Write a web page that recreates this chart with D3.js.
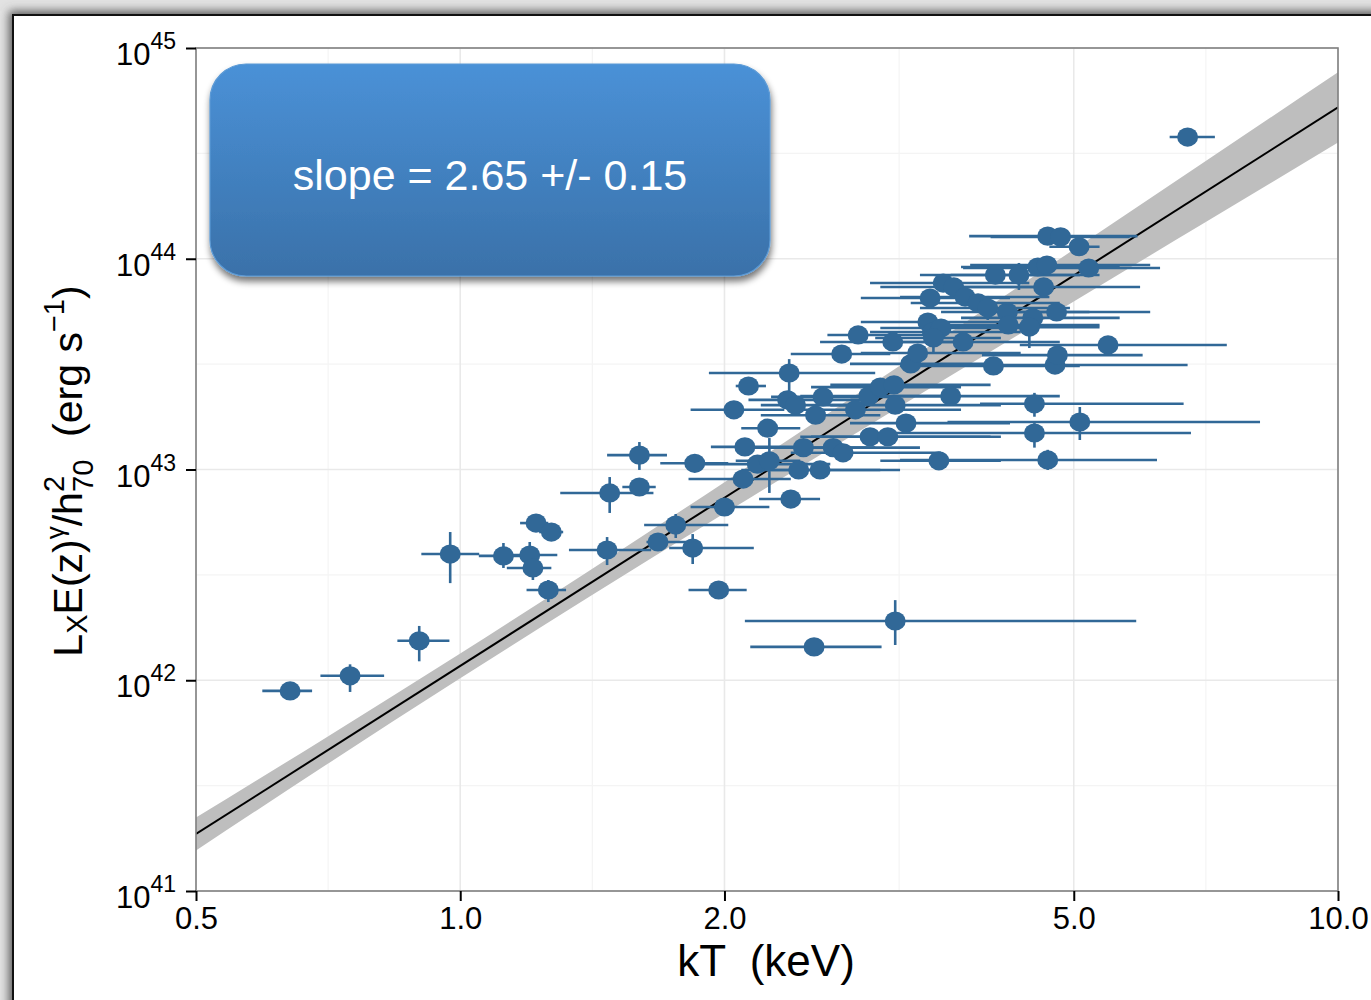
<!DOCTYPE html>
<html>
<head>
<meta charset="utf-8">
<script src="https://cdn.jsdelivr.net/npm/d3@7"></script>
<style>
  html, body { margin: 0; padding: 0; background: #fff; }
  svg { display: block; }
  text { font-family: "Liberation Sans", Arial, Helvetica, sans-serif; white-space: pre; }
</style>
</head>
<body>
<svg id="chart" width="1371" height="1000"></svg>
<script>
// Cluster temperatures (keV) with lower / upper bounds of the error bars
const kT    = [0.64, 0.749, 0.898, 0.974, 1.12, 1.20, 1.21, 1.22, 1.27, 1.26,
               1.47, 1.48, 1.60, 1.60, 1.85, 1.76, 1.68, 1.84, 1.97, 2.00,
               2.10, 2.11, 2.24, 2.05, 2.13, 2.37, 2.36, 2.41, 2.18, 2.25,
               2.38, 2.43, 2.57, 2.46, 2.66, 2.73, 2.54, 2.82, 2.59, 2.92,
               2.93, 3.07, 2.72, 2.84, 3.11, 3.01, 3.12, 3.13, 3.22, 3.26,
               3.32, 3.51, 4.67, 3.62, 4.51, 5.08, 4.51, 4.05, 4.76, 4.79,
               5.47, 3.41, 3.45, 3.53, 3.46, 3.74, 6.74, 4.67, 4.83, 5.07,
               5.20, 4.55, 4.66, 4.07, 4.33, 4.62, 3.55, 3.65, 3.43, 3.76,
               3.89, 3.99, 4.20, 4.21, 4.49, 4.78, 4.45, 3.13, 2.53];
const kTLo  = [0.595, 0.693, 0.848, 0.903, 1.05, 1.13, 1.13, 1.17, 1.23, 1.19,
               1.33, 1.30, 1.47, 1.53, 1.69, 1.62, 1.63, 1.73, 1.82, 1.83,
               1.82, 1.93, 2.09, 1.83, 2.06, 1.92, 2.13, 2.20, 1.88, 2.06,
               2.19, 2.09, 2.26, 2.11, 2.26, 2.38, 2.20, 2.38, 2.26, 2.44,
               2.44, 2.51, 2.38, 2.62, 2.57, 2.51, 2.64, 2.64, 2.78, 2.78,
               2.86, 3.01, 3.17, 3.01, 3.91, 3.59, 3.09, 3.17, 3.93, 3.93,
               4.34, 2.86, 2.93, 3.01, 2.97, 3.17, 6.43, 3.80, 4.02, 4.69,
               3.74, 3.72, 3.81, 3.34, 3.62, 3.53, 2.93, 3.01, 2.86, 3.17,
               3.26, 3.34, 3.53, 3.53, 3.72, 4.13, 3.62, 2.11, 2.14];
const kTHi  = [0.678, 0.819, 0.972, 1.051, 1.17, 1.29, 1.27, 1.26, 1.31, 1.32,
               1.65, 1.66, 1.72, 1.67, 2.02, 2.02, 1.82, 2.16, 2.12, 2.25,
               2.38, 2.41, 2.44, 2.34, 2.23, 2.97, 2.93, 2.86, 2.64, 2.44,
               2.57, 3.01, 3.17, 2.97, 3.34, 3.53, 3.01, 3.72, 3.17, 3.72,
               4.02, 4.13, 3.09, 3.43, 3.72, 3.72, 4.02, 4.13, 4.23, 4.13,
               4.35, 4.13, 6.22, 4.82, 6.67, 8.15, 6.80, 5.08, 6.74, 5.99,
               7.47, 4.23, 4.35, 4.57, 4.13, 4.82, 7.24, 5.91, 5.79, 5.35,
               6.27, 5.64, 6.11, 5.35, 5.08, 5.95, 4.45, 4.57, 4.23, 4.69,
               4.82, 4.95, 5.21, 5.35, 5.64, 6.11, 5.35, 5.89, 3.02];

// Luminosity L_X E(z)^gamma / h70^2 (erg/s); null bounds = no vertical bar
const lum   = [8.9e41, 1.05e42, 1.54e42, 3.97e42, 3.89e42, 3.93e42, 3.41e42, 5.57e42, 5.05e42, 2.68e42,
               4.15e42, 7.74e42, 1.17e43, 8.26e42, 1.07e43, 5.45e42, 4.53e42, 4.24e42, 2.68e42, 6.64e42,
               9.01e42, 1.28e43, 1.57e43, 1.92e43, 2.49e43, 2.87e43, 2.14e43, 2.02e43, 1.06e43, 1.10e43,
               7.24e42, 9.95e42, 9.95e42, 1.27e43, 1.27e43, 1.20e43, 1.81e43, 1.92e43, 2.21e43, 2.23e43,
               1.43e43, 1.43e43, 3.53e43, 4.35e43, 4.03e43, 2.46e43, 2.52e43, 2.02e43, 1.66e43, 3.17e43,
               3.57e43, 1.10e43, 1.11e43, 2.23e43, 2.05e43, 1.68e43, 1.49e43, 3.10e43, 3.13e43, 3.49e43,
               3.90e43, 5.01e43, 4.49e43, 4.69e43, 4.21e43, 4.03e43, 3.78e44, 1.28e44, 1.27e44, 1.14e44,
               9.04e43, 9.14e43, 9.34e43, 8.37e43, 8.37e43, 7.35e43, 7.67e43, 7.35e43, 6.51e43, 6.58e43,
               6.17e43, 5.84e43, 5.59e43, 4.85e43, 5.24e43, 5.59e43, 4.74e43, 1.91e42, 1.44e42];
const lumLo = [null, 8.8e41, 1.23e42, 2.89e42, 3.41e42, 3.48e42, 2.99e42, null, null, 2.35e42,
               3.52e42, 6.22e42, 9.95e42, null, null, 4.73e42, null, 3.56e42, null, null,
               null, null, null, null, null, 2.26e43, null, null, null, 7.74e42,
               null, null, null, null, null, null, null, null, null, null,
               null, null, null, null, null, null, null, null, null, null,
               null, null, 9.95e42, null, 1.78e43, 1.38e43, 1.27e43, null, null, null,
               null, null, null, null, 3.61e43, null, null, null, null, null,
               null, null, null, null, 7.11e43, null, null, null, null, null,
               null, 5.12e43, null, null, null, null, 3.77e43, 1.47e42, null];
const lumHi = [null, 1.19e42, 1.81e42, 5.05e42, 4.48e42, 4.53e42, 3.72e42, null, null, 2.99e42,
               4.78e42, 9.21e42, 1.35e43, null, null, 6.15e42, null, 4.94e42, null, null,
               null, null, null, null, null, 3.34e43, null, null, null, 1.41e43,
               null, null, null, null, null, null, null, null, null, null,
               null, null, null, null, null, null, null, null, null, null,
               null, null, 1.24e43, null, 2.31e43, 1.98e43, 1.66e43, null, null, null,
               null, null, null, null, 4.85e43, null, null, null, null, null,
               null, null, null, null, 9.55e43, null, null, null, null, null,
               null, 6.66e43, null, null, null, null, 5.24e43, 2.40e42, null];

// Power-law fit L = norm * kT^slope and the half-width (dex) of its confidence band
const fitSlope = 2.65;
const fitNorm = 1.17e42;          // luminosity at kT = 1 keV
const bandKT      = [0.5, 0.7, 1.0, 1.4, 2.0, 3.0, 5.0, 7.0, 10.0];
const bandHalfDex = [0.078, 0.065, 0.059, 0.062, 0.074, 0.094, 0.123, 0.144, 0.167];

// Axis ticks
const xTicks = [0.5, 1.0, 2.0, 5.0, 10.0];
const yTicks = [1e41, 1e42, 1e43, 1e44, 1e45];
const yTickExp = ["41", "42", "43", "44", "45"];

const svg = d3.select("#chart");
const defs = svg.append("defs");

const X0 = 196, X1 = 1338, Y0 = 891, Y1 = 48;
const x = d3.scaleLog().domain([0.5, 10]).range([X0, X1]);
const y = d3.scaleLog().domain([1e41, 1e45]).range([Y0, Y1]);

// ---- page frame with soft shadow ----
const shadow = defs.append("filter").attr("id", "pageShadow")
  .attr("x", "-5%").attr("y", "-5%").attr("width", "110%").attr("height", "110%");
shadow.append("feGaussianBlur").attr("stdDeviation", 5);

svg.append("rect").attr("width", 1371).attr("height", 1000).attr("fill", "#e2e2e2");
svg.append("rect").attr("x", 9).attr("y", 11).attr("width", 1420).attr("height", 1060)
  .attr("fill", "#5a5a5a").attr("filter", "url(#pageShadow)");
svg.append("rect").attr("x", 13).attr("y", 15).attr("width", 1420).attr("height", 1060)
  .attr("fill", "#ffffff").attr("stroke", "#111").attr("stroke-width", 2);

// ---- grid ----
const clip = defs.append("clipPath").attr("id", "panel");
clip.append("rect").attr("x", X0).attr("y", Y1).attr("width", X1 - X0).attr("height", Y0 - Y1);

const grid = svg.append("g");
const xMinor = d3.pairs(xTicks).map(([a, b]) => Math.sqrt(a * b));
const yMinor = d3.pairs(yTicks).map(([a, b]) => Math.sqrt(a * b));
grid.selectAll(".gxm").data(xMinor).join("line")
  .attr("x1", d => x(d)).attr("x2", d => x(d)).attr("y1", Y1).attr("y2", Y0)
  .attr("stroke", "#f4f4f4").attr("stroke-width", 1.2);
grid.selectAll(".gym").data(yMinor).join("line")
  .attr("y1", d => y(d)).attr("y2", d => y(d)).attr("x1", X0).attr("x2", X1)
  .attr("stroke", "#f4f4f4").attr("stroke-width", 1.2);
grid.selectAll(".gx").data(xTicks).join("line")
  .attr("x1", d => x(d)).attr("x2", d => x(d)).attr("y1", Y1).attr("y2", Y0)
  .attr("stroke", "#e9e9e9").attr("stroke-width", 1.6);
grid.selectAll(".gy").data(yTicks).join("line")
  .attr("y1", d => y(d)).attr("y2", d => y(d)).attr("x1", X0).attr("x2", X1)
  .attr("stroke", "#e9e9e9").attr("stroke-width", 1.6);

// ---- fit band and line ----
const plot = svg.append("g").attr("clip-path", "url(#panel)");
const fit = k => fitNorm * Math.pow(k, fitSlope);
const bandData = bandKT.map((k, i) => ({ k, hw: bandHalfDex[i] }));
plot.append("path").datum(bandData)
  .attr("fill", "#bebebe")
  .attr("d", d3.area()
    .x(d => x(d.k))
    .y0(d => y(fit(d.k) / Math.pow(10, d.hw)))
    .y1(d => y(fit(d.k) * Math.pow(10, d.hw)))
    .curve(d3.curveMonotoneX));
plot.append("path").datum([0.5, 10])
  .attr("fill", "none").attr("stroke", "#000").attr("stroke-width", 2)
  .attr("d", d3.line().x(d => x(d)).y(d => y(fit(d))));

// ---- data points with error bars ----
const pts = kT.map((k, i) => ({
  k, lo: kTLo[i], hi: kTHi[i], L: lum[i], Llo: lumLo[i], Lhi: lumHi[i]
}));
const col = "#316897";
const bars = plot.append("g").attr("stroke", col).attr("stroke-width", 2.6);
bars.selectAll(".xb").data(pts).join("line")
  .attr("x1", d => x(d.lo)).attr("x2", d => x(d.hi))
  .attr("y1", d => y(d.L)).attr("y2", d => y(d.L));
bars.selectAll(".yb").data(pts.filter(d => d.Llo !== null)).join("line")
  .attr("x1", d => x(d.k)).attr("x2", d => x(d.k))
  .attr("y1", d => y(d.Llo)).attr("y2", d => y(d.Lhi));
plot.append("g").selectAll("ellipse").data(pts).join("ellipse")
  .attr("cx", d => x(d.k)).attr("cy", d => y(d.L))
  .attr("rx", 10.5).attr("ry", 9.6).attr("fill", col);

// ---- panel border ----
svg.append("rect").attr("x", X0).attr("y", Y1).attr("width", X1 - X0).attr("height", Y0 - Y1)
  .attr("fill", "none").attr("stroke", "#808080").attr("stroke-width", 1.6);

// ---- axes ----
const xAxis = svg.append("g").attr("transform", `translate(0,${Y0})`)
  .call(d3.axisBottom(x).tickValues(xTicks).tickSize(10).tickPadding(6)
    .tickFormat(d3.format(".1f")));
xAxis.select(".domain").remove();
xAxis.selectAll(".tick line").attr("stroke", "#000").attr("stroke-width", 2);
xAxis.selectAll(".tick text").attr("font-size", 31).attr("fill", "#000")
  .attr("font-family", "Liberation Sans, Arial, sans-serif");

const yAxis = svg.append("g").attr("transform", `translate(${X0},0)`)
  .call(d3.axisLeft(y).tickValues(yTicks).tickSize(10).tickFormat(""));
yAxis.select(".domain").remove();
yAxis.selectAll(".tick line").attr("stroke", "#000").attr("stroke-width", 2);
const yLab = svg.append("g");
yTicks.forEach((v, i) => {
  const t = yLab.append("text").attr("x", 176).attr("y", y(v) + 17)
    .attr("text-anchor", "end").attr("font-size", 31).attr("fill", "#000");
  t.append("tspan").text("10");
  t.append("tspan").attr("font-size", 23).attr("dy", -16).text(yTickExp[i]);
});

// axis titles
svg.append("text").attr("x", 766).attr("y", 976).attr("text-anchor", "middle")
  .attr("font-size", 44).attr("fill", "#000").text("kT  (keV)");

const yt = svg.append("text").attr("transform", "translate(82,471) rotate(-90)")
  .attr("text-anchor", "middle").attr("font-size", 41).attr("fill", "#000");
yt.append("tspan").text("L");
yt.append("tspan").attr("font-size", 29).attr("dy", 5).text("X");
yt.append("tspan").attr("dy", -5).text("E(z)");
yt.append("tspan").attr("font-size", 26).attr("dy", -18).text("γ");
yt.append("tspan").attr("dy", 18).text("/h");
yt.append("tspan").attr("font-size", 29).attr("dy", -18).text("2");
yt.append("tspan").attr("font-size", 29).attr("dx", -16).attr("dy", 29).text("70");
yt.append("tspan").attr("dy", -11).text("  (erg s");
yt.append("tspan").attr("font-size", 29).attr("dy", -18).text("−1");
yt.append("tspan").attr("dy", 18).text(")");

// ---- annotation box ----
const grad = defs.append("linearGradient").attr("id", "boxFill")
  .attr("x1", 0).attr("y1", 0).attr("x2", 0).attr("y2", 1);
grad.append("stop").attr("offset", "0%").attr("stop-color", "#4a91d7");
grad.append("stop").attr("offset", "100%").attr("stop-color", "#3a71a9");
const boxShadow = defs.append("filter").attr("id", "boxShadow")
  .attr("x", "-10%").attr("y", "-10%").attr("width", "120%").attr("height", "130%");
boxShadow.append("feGaussianBlur").attr("in", "SourceAlpha").attr("stdDeviation", 3.5).attr("result", "b");
boxShadow.append("feOffset").attr("in", "b").attr("dx", 1).attr("dy", 5).attr("result", "o");
boxShadow.append("feComponentTransfer").attr("in", "o").attr("result", "s")
  .append("feFuncA").attr("type", "linear").attr("slope", 0.55);
const bm = boxShadow.append("feMerge");
bm.append("feMergeNode").attr("in", "s");
bm.append("feMergeNode").attr("in", "SourceGraphic");

svg.append("rect").attr("x", 210).attr("y", 64).attr("width", 560).attr("height", 212)
  .attr("rx", 36).attr("ry", 36)
  .attr("fill", "url(#boxFill)").attr("stroke", "#5b9ad6").attr("stroke-width", 1.2)
  .attr("filter", "url(#boxShadow)");
svg.append("text").attr("x", 490).attr("y", 190).attr("text-anchor", "middle")
  .attr("font-family", "Lato, 'Open Sans', sans-serif").attr("font-size", 43)
  .attr("fill", "#ffffff").text("slope = 2.65 +/- 0.15");
</script>
</body>
</html>
